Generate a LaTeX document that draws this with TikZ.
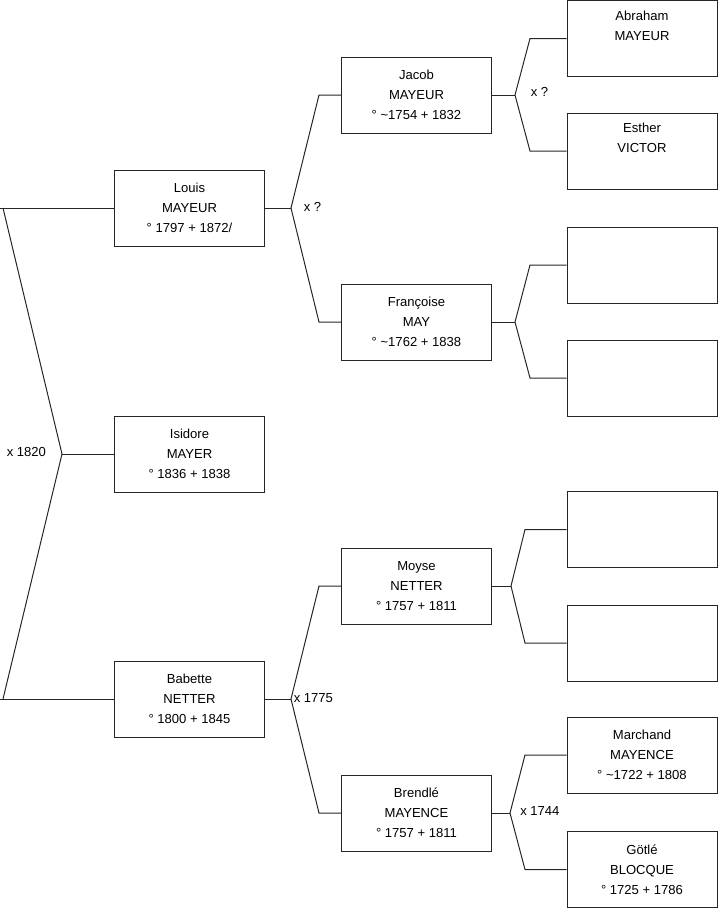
\documentclass[tikz,border=0pt]{standalone}
\usepackage{fontspec}
\setmainfont{Liberation Sans}
\begin{document}
\begin{tikzpicture}[x=0.75pt,y=-0.75pt,
  person/.style={draw=black!85,line width=0.75pt,fill=white,rectangle,
    minimum width=112.5pt,minimum height=57pt,inner sep=0pt,align=center,
    font=\fontsize{9.8}{15}\selectfont},
  link/.style={draw=black!85,line width=0.75pt},
  lbl/.style={anchor=west,inner sep=0pt,font=\fontsize{9.8}{12}\selectfont}]
\useasboundingbox (0,0) rectangle (719,908);
% generation 1
\node[person] (louis) at (189.5,208) {Louis\\MAYEUR\\° 1797 + 1872/};
\node[person] (isidore) at (189.5,454) {Isidore\\MAYER\\° 1836 + 1838};
\node[person] (babette) at (189.5,699) {Babette\\NETTER\\° 1800 + 1845};
% generation 2
\node[person] (jacob) at (416.5,95) {Jacob\\MAYEUR\\° \textasciitilde1754 + 1832};
\node[person] (francoise) at (416.5,322) {Françoise\\MAY\\° \textasciitilde1762 + 1838};
\node[person] (moyse) at (416.5,586) {Moyse\\NETTER\\° 1757 + 1811};
\node[person] (brendle) at (416.5,813) {Brendlé\\MAYENCE\\° 1757 + 1811};
% generation 3
\node[person] (abraham) at (642,38.5) {Abraham\\MAYEUR\\\strut};
\node[person] (esther) at (642,151) {Esther\\VICTOR\\\strut};
\node[person] (e1) at (642,265) {};
\node[person] (e2) at (642,378) {};
\node[person] (e3) at (642,529.5) {};
\node[person] (e4) at (642,643) {};
\node[person] (marchand) at (642,755) {Marchand\\MAYENCE\\° \textasciitilde1722 + 1808};
\node[person] (gotle) at (642,869.5) {Götlé\\BLOCQUE\\° 1725 + 1786};
% fork coordinates
\coordinate (a0) at (0,208); \coordinate (a1) at (3,208);
\coordinate (j0) at (62,454);
\coordinate (b0) at (0,699); \coordinate (b1) at (3,699);
\coordinate (f1) at (291,208); \coordinate (f1a) at (319,95); \coordinate (f1b) at (319,322);
\coordinate (f2) at (291,699); \coordinate (f2a) at (319,586); \coordinate (f2b) at (319,813);
\coordinate (f3) at (515,95); \coordinate (f3a) at (530,38.5); \coordinate (f3b) at (530,151);
\coordinate (f4) at (515,322); \coordinate (f4a) at (530,265); \coordinate (f4b) at (530,378);
\coordinate (f5) at (511,586); \coordinate (f5a) at (525,529.5); \coordinate (f5b) at (525,643);
\coordinate (f6) at (510,813); \coordinate (f6a) at (525,755); \coordinate (f6b) at (525,869.5);
% connectors
\draw[link] (a0) -- (louis.west);
\draw[link] (b0) -- (babette.west);
\draw[link] (a1) -- (j0) -- (b1);
\draw[link] (j0) -- (isidore.west);
\draw[link] (louis.east) -- (f1);
\draw[link] (jacob.west) -- (f1a) -- (f1) -- (f1b) -- (francoise.west);
\draw[link] (babette.east) -- (f2);
\draw[link] (moyse.west) -- (f2a) -- (f2) -- (f2b) -- (brendle.west);
\draw[link] (jacob.east) -- (f3);
\draw[link] (abraham.west) -- (f3a) -- (f3) -- (f3b) -- (esther.west);
\draw[link] (francoise.east) -- (f4);
\draw[link] (e1.west) -- (f4a) -- (f4) -- (f4b) -- (e2.west);
\draw[link] (moyse.east) -- (f5);
\draw[link] (e3.west) -- (f5a) -- (f5) -- (f5b) -- (e4.west);
\draw[link] (brendle.east) -- (f6);
\draw[link] (marchand.west) -- (f6a) -- (f6) -- (f6b) -- (gotle.west);
% labels
\node[lbl] (m0) at (6.5,452) {x 1820};
\node[lbl] (m1) at (303.5,207) {x ?};
\node[lbl] (m2) at (293.5,698) {x 1775};
\node[lbl] (m3) at (530.5,92) {x ?};
\node[lbl] (m4) at (520,811) {x 1744};
\end{tikzpicture}
\end{document}
